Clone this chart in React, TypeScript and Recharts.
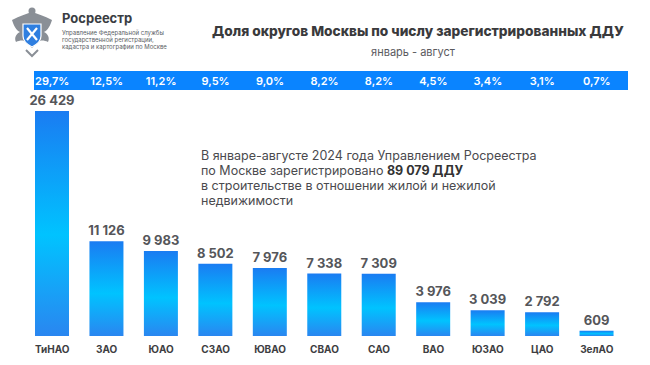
import React from "react";
import { BarChart, Bar, XAxis, YAxis, LabelList } from "recharts";

const districts = ["ТиНАО", "ЗАО", "ЮАО", "СЗАО", "ЮВАО", "СВАО", "САО", "ВАО", "ЮЗАО", "ЦАО", "ЗелАО"];
const contracts = [26429, 11126, 9983, 8502, 7976, 7338, 7309, 3976, 3039, 2792, 609];
const shares = ["29,7%", "12,5%", "11,2%", "9,5%", "9,0%", "8,2%", "8,2%", "4,5%", "3,4%", "3,1%", "0,7%"];

const data = districts.map((name, i) => ({ name, value: contracts[i], share: shares[i] }));

const FONT = "Inter, 'Noto Sans', sans-serif";

// non-breaking space so the label is not wrapped to bar width
const fmt = (v: any) => String(v).replace(/\B(?=(\d{3})+(?!\d))/g, "\u00A0");

const ShareTick = ({ x, payload }: any) => (
  <text
    x={x}
    y={81}
    textAnchor="middle"
    dominantBaseline="central"
    fill="#ffffff"
    fontSize={11}
    fontWeight={600}
    fontFamily={FONT}
  >
    {payload.value}
  </text>
);

const Logo = () => (
  <svg width="52" height="56" viewBox="0 0 52 56" style={{ position: "absolute", left: 6, top: 4 }}>
    <path
      d="M26 8 C20 10 14 12 6 16 C8 22 10 26 14 28 C10 30 8 34 10 38 C14 36 18 36 20 38 L26 44 L32 38 C34 36 38 36 42 38 C44 34 42 30 38 28 C42 26 44 22 46 16 C38 12 32 10 26 8 Z"
      fill="#8a8f96"
    />
    <circle cx="26" cy="7" r="3.5" fill="#8a8f96" />
    <path d="M17 20 L35 20 L35 32 C35 38 30 41 26 43 C22 41 17 38 17 32 Z" fill="#2f7fe0" stroke="#ffffff" strokeWidth="1.2" />
    <path d="M21 24 L31 36 M31 24 L21 36" stroke="#ffffff" strokeWidth="2.2" />
    <path d="M20 46 L26 52 L32 46" stroke="#8a8f96" strokeWidth="2" fill="none" />
  </svg>
);

export default function App() {
  return (
    <div
      style={{
        position: "absolute",
        left: 0,
        top: 0,
        width: 650,
        height: 365,
        background: "#ffffff",
        fontFamily: FONT,
        overflow: "hidden",
      }}
    >
      <Logo />
      <div style={{ position: "absolute", left: 62, top: 10, fontSize: 13, fontWeight: 700, color: "#3a3d42" }}>
        Росреестр
      </div>
      <div
        style={{
          position: "absolute",
          left: 62,
          top: 29,
          fontSize: 6,
          lineHeight: "7px",
          color: "#5a5e64",
          width: 140,
        }}
      >
        Управление Федеральной службы
        <br />
        государственной регистрации,
        <br />
        кадастра и картографии по Москве
      </div>

      <div
        style={{
          position: "absolute",
          left: 200,
          width: 436,
          top: 23,
          textAlign: "center",
          fontSize: 13.7,
          fontWeight: 800,
          color: "#3a3a3c",
        }}
      >
        Доля округов Москвы по числу зарегистрированных ДДУ
      </div>
      <div
        style={{
          position: "absolute",
          left: 200,
          width: 426,
          top: 45,
          textAlign: "center",
          fontSize: 11,
          color: "#5a5a5e",
        }}
      >
        январь - август
      </div>

      <div style={{ position: "absolute", left: 34, top: 71, width: 594, height: 19, background: "#0a84ff" }} />

      <div
        style={{
          position: "absolute",
          left: 201,
          top: 148,
          fontSize: 12.5,
          lineHeight: "15px",
          color: "#4a4a4e",
          width: 380,
        }}
      >
        В январе-августе 2024 года Управлением Росреестра
        <br />
        по Москве зарегистрировано <b style={{ color: "#333" }}>89 079 ДДУ</b>
        <br />
        в строительстве в отношении жилой и нежилой
        <br />
        недвижимости
      </div>

      <div style={{ position: "absolute", left: 0, top: 0 }}>
        <BarChart width={650} height={365} data={data} margin={{ top: 70, right: 26, left: 25, bottom: 0 }}>
          <defs>
            <linearGradient id="barGrad" x1="0" y1="0" x2="0" y2="1">
              <stop offset="0%" stopColor="#1a7cf2" />
              <stop offset="55%" stopColor="#00c3ff" />
              <stop offset="100%" stopColor="#2a86f0" />
            </linearGradient>
          </defs>
          <XAxis
            xAxisId="top"
            orientation="top"
            dataKey="share"
            height={20}
            axisLine={false}
            tickLine={false}
            interval={0}
            tick={<ShareTick />}
          />
          <XAxis
            dataKey="name"
            height={29}
            axisLine={false}
            tickLine={false}
            interval={0}
            tickMargin={4}
            tick={{ fill: "#3e3e42", fontSize: 10, fontWeight: 700, fontFamily: FONT }}
          />
          <YAxis hide domain={[0, 28900]} />
          <Bar dataKey="value" fill="url(#barGrad)" barSize={34} isAnimationActive={false}>
            <LabelList
              dataKey="value"
              position="top"
              offset={6}
              formatter={fmt}
              fill="#55565a"
              fontSize={13}
              fontWeight={700}
              fontFamily={FONT}
            />
          </Bar>
        </BarChart>
      </div>
    </div>
  );
}
